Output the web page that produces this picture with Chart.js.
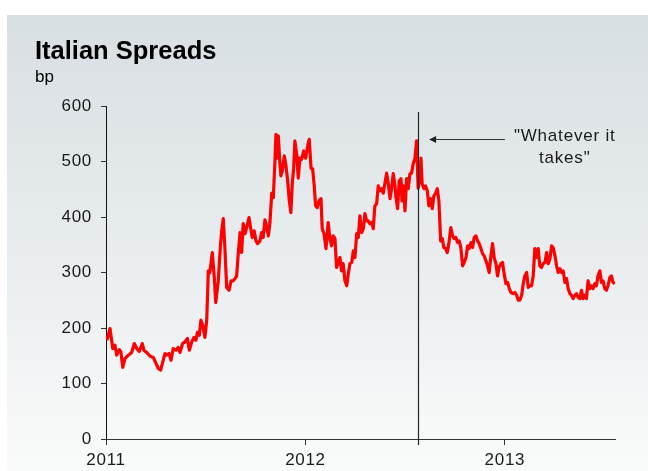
<!DOCTYPE html>
<html>
<head>
<meta charset="utf-8">
<script src="https://cdn.jsdelivr.net/npm/chart.js@4.4.1/dist/chart.umd.min.js"></script>
<style>
  html, body { margin: 0; padding: 0; background: #ffffff; }
  canvas { display: block; }
</style>
</head>
<body>
<canvas id="spreads" width="648" height="471"></canvas>
<script>
// Italian 10y spread over Bunds, basis points, sampled roughly twice a week (time in decimal years)
const weeks = [
  2011.004,2011.020,2011.034,2011.045,2011.054,2011.067,2011.075,2011.084,2011.095,2011.112,
  2011.129,2011.142,2011.154,2011.167,2011.182,2011.190,2011.204,2011.221,2011.237,2011.251,
  2011.262,2011.274,2011.287,2011.296,2011.304,2011.316,2011.326,2011.337,2011.351,2011.362,
  2011.371,2011.384,2011.396,2011.408,2011.418,2011.430,2011.441,2011.451,2011.458,2011.468,
  2011.476,2011.485,2011.496,2011.505,2011.513,2011.521,2011.533,2011.543,2011.550,2011.563,
  2011.573,2011.580,2011.588,2011.596,2011.605,2011.617,2011.627,2011.638,2011.647,2011.655,
  2011.663,2011.672,2011.680,2011.688,2011.697,2011.705,2011.717,2011.725,2011.733,2011.743,
  2011.752,2011.760,2011.772,2011.780,2011.788,2011.797,2011.805,2011.814,2011.822,2011.831,
  2011.839,2011.847,2011.852,2011.859,2011.864,2011.872,2011.877,2011.884,2011.894,2011.901,
  2011.911,2011.919,2011.927,2011.934,2011.941,2011.947,2011.956,2011.964,2011.972,2011.981,
  2011.991,2012.001,2012.011,2012.019,2012.028,2012.036,2012.044,2012.051,2012.059,2012.068,
  2012.078,2012.084,2012.093,2012.103,2012.114,2012.123,2012.131,2012.139,2012.148,2012.156,
  2012.164,2012.173,2012.181,2012.189,2012.198,2012.207,2012.215,2012.223,2012.232,2012.240,
  2012.248,2012.257,2012.265,2012.273,2012.282,2012.290,2012.298,2012.307,2012.315,2012.323,
  2012.332,2012.340,2012.348,2012.357,2012.365,2012.373,2012.382,2012.390,2012.398,2012.407,
  2012.415,2012.424,2012.432,2012.440,2012.449,2012.454,2012.462,2012.470,2012.479,2012.484,
  2012.492,2012.499,2012.507,2012.515,2012.524,2012.532,2012.540,2012.549,2012.557,2012.565,
  2012.574,2012.579,2012.585,2012.594,2012.602,2012.611,2012.619,2012.628,2012.636,2012.644,
  2012.653,2012.661,2012.669,2012.678,2012.686,2012.694,2012.703,2012.711,2012.719,2012.729,
  2012.738,2012.746,2012.754,2012.763,2012.771,2012.779,2012.788,2012.796,2012.805,2012.813,
  2012.821,2012.830,2012.838,2012.846,2012.855,2012.863,2012.871,2012.880,2012.888,2012.896,
  2012.905,2012.913,2012.921,2012.930,2012.938,2012.946,2012.955,2012.963,2012.971,2012.980,
  2012.988,2012.996,2013.005,2013.014,2013.022,2013.030,2013.042,2013.050,2013.059,2013.067,
  2013.075,2013.084,2013.092,2013.100,2013.109,2013.117,2013.125,2013.134,2013.142,2013.150,
  2013.159,2013.167,2013.175,2013.184,2013.192,2013.201,2013.209,2013.217,2013.226,2013.234,
  2013.242,2013.251,2013.259,2013.267,2013.276,2013.284,2013.292,2013.301,2013.309,2013.317,
  2013.326,2013.334,2013.342,2013.351,2013.359,2013.367,2013.376,2013.384,2013.392,2013.401,
  2013.409,2013.417,2013.426,2013.434,2013.442,2013.451,2013.459,2013.467,2013.476,2013.484,
  2013.492,2013.501,2013.509,2013.517,2013.526,2013.534,2013.542,2013.551
];

const spreadBp = [
  178,199,163,169,151,161,156,129,145,151,
  156,172,163,158,172,160,156,149,147,136,
  127,124,142,154,151,154,142,163,160,165,
  156,172,175,181,160,175,183,178,192,187,
  214,205,183,214,303,300,336,291,246,285,
  345,375,397,345,273,268,285,285,289,294,
  334,372,336,388,370,381,399,381,363,375,
  357,352,357,372,363,395,384,366,390,443,
  435,501,549,506,546,496,474,483,510,496,
  465,429,408,460,488,537,513,470,506,504,
  519,506,528,540,488,487,456,420,417,429,
  433,379,370,343,390,361,348,366,361,309,
  316,327,303,316,285,276,298,316,318,339,
  327,370,363,402,372,379,406,393,393,388,
  390,379,420,424,456,447,451,443,460,479,
  461,433,452,478,456,435,415,465,469,429,
  456,411,469,451,478,479,496,506,537,452,
  469,506,460,451,456,447,420,433,415,438,
  443,451,429,357,361,345,343,336,352,381,
  366,361,363,354,357,345,312,318,327,348,
  343,354,345,363,366,357,352,343,334,330,
  321,312,300,330,352,327,316,294,309,316,
  318,298,280,282,271,264,262,264,259,250,
  250,259,280,294,300,273,276,276,294,343,
  327,343,312,309,316,318,336,316,325,348,
  345,330,312,300,307,300,303,282,289,271,
  262,259,253,259,262,255,253,268,253,259,
  253,285,271,276,271,280,276,294,303,282,
  285,271,268,276,291,294,282,280
];

const yearTicks = [2011, 2012, 2013];
const yearLabels = ['2011', '2012', '2013'];
const bpTicks = [0, 100, 200, 300, 400, 500, 600];

// Draghi's London speech, 26 July 2012
const eventDate = 2012.566;
const eventTop = 589;
const calloutLines = ['"Whatever it', 'takes"'];
const calloutArrow = { from: 2013.0, to: 2012.62, level: 540 };
const calloutText = { at: 2013.30, levels: [546, 506] };

const FONT = "'Liberation Sans', Arial, Helvetica, sans-serif";
const INK = '#1a1a1a';

// soft grey panel behind the chart
const panel = {
  id: 'panel',
  beforeDraw(chart) {
    const ctx = chart.ctx;
    ctx.save();
    ctx.fillStyle = '#ffffff';
    ctx.fillRect(0, 0, chart.width, chart.height);
    const g = ctx.createLinearGradient(0, 15, 0, chart.height);
    g.addColorStop(0, '#d8dfe2');
    g.addColorStop(0.5, '#e8ecee');
    g.addColorStop(1, '#fafbfb');
    ctx.fillStyle = g;
    ctx.fillRect(7, 15, chart.width - 7, chart.height - 15);
    ctx.restore();
    ctx.letterSpacing = '0px';
  },
  afterDatasetsDraw(chart) {
    // axis labels are drawn after this point with slightly open tracking
    chart.ctx.letterSpacing = '0.7px';
  }
};

// event marker, arrow and callout text
const callout = {
  id: 'callout',
  afterDatasetsDraw(chart) {
    const { ctx, scales: { x, y } } = chart;
    ctx.save();
    ctx.letterSpacing = '0px';
    const ex = Math.round(x.getPixelForValue(eventDate)) + 0.5;
    ctx.strokeStyle = '#262626';
    ctx.lineWidth = 1.2;
    ctx.beginPath();
    ctx.moveTo(ex, y.getPixelForValue(eventTop));
    ctx.lineTo(ex, chart.chartArea.bottom + 6);
    ctx.stroke();

    const ay = Math.round(y.getPixelForValue(calloutArrow.level)) + 0.5;
    const x0 = x.getPixelForValue(calloutArrow.from);
    const x1 = x.getPixelForValue(calloutArrow.to);
    ctx.strokeStyle = '#333333';
    ctx.lineWidth = 1;
    ctx.beginPath();
    ctx.moveTo(x0, ay);
    ctx.lineTo(x1 + 5, ay);
    ctx.stroke();
    ctx.fillStyle = '#222222';
    ctx.beginPath();
    ctx.moveTo(x1, ay);
    ctx.lineTo(x1 + 7, ay - 3.5);
    ctx.lineTo(x1 + 7, ay + 3.5);
    ctx.closePath();
    ctx.fill();
    ctx.restore();
  },
  afterDraw(chart) {
    const { ctx, scales: { x, y } } = chart;
    ctx.save();
    ctx.letterSpacing = '0.8px';
    ctx.font = '17px ' + FONT;
    ctx.fillStyle = INK;
    ctx.textAlign = 'center';
    ctx.textBaseline = 'middle';
    const cx = x.getPixelForValue(calloutText.at);
    calloutLines.forEach((t, i) => {
      ctx.fillText(t, cx, y.getPixelForValue(calloutText.levels[i]));
    });
    ctx.restore();
  }
};

new Chart(document.getElementById('spreads'), {
  type: 'line',
  data: {
    datasets: [{
      label: 'Italian spread',
      data: weeks.map((t, i) => ({ x: t, y: spreadBp[i] })),
      borderColor: '#ff0000',
      borderWidth: 3.2,
      borderJoinStyle: 'round',
      pointRadius: 0,
      tension: 0,
      fill: false
    }]
  },
  options: {
    responsive: false,
    animation: false,
    devicePixelRatio: 1,
    layout: { padding: { left: 35, right: 33, top: 0, bottom: 0 } },
    plugins: {
      legend: { display: false },
      tooltip: { enabled: false },
      title: {
        display: true,
        text: 'Italian Spreads',
        align: 'start',
        color: '#000000',
        font: { family: FONT, size: 25.5, weight: 'bold', lineHeight: 1.2 },
        padding: { top: 37, bottom: 0 }
      },
      subtitle: {
        display: true,
        text: 'bp',
        align: 'start',
        color: '#000000',
        font: { family: FONT, size: 17, weight: 'normal', lineHeight: 1.2 },
        padding: { top: 0, bottom: 18 }
      }
    },
    scales: {
      x: {
        type: 'linear',
        min: yearTicks[0],
        max: 2013.552,
        afterBuildTicks(axis) { axis.ticks = yearTicks.map(v => ({ value: v })); },
        afterFit(axis) { axis.height = 32; },
        ticks: {
          z: 1,
          color: INK,
          padding: 5,
          maxRotation: 0,
          autoSkip: false,
          font: { family: FONT, size: 17 },
          callback: (v, i) => yearLabels[i]
        },
        grid: { display: true, drawOnChartArea: false, drawTicks: true, tickLength: 6, color: '#333333', lineWidth: 1 },
        border: { display: true, color: '#333333', width: 1 }
      },
      y: {
        type: 'linear',
        min: bpTicks[0],
        max: bpTicks[bpTicks.length - 1],
        afterBuildTicks(axis) { axis.ticks = bpTicks.map(v => ({ value: v })); },
        afterFit(axis) { axis.width = 71; },
        ticks: {
          z: 1,
          color: INK,
          padding: 9,
          font: { family: FONT, size: 17 },
          callback: (v) => String(v)
        },
        grid: { display: true, drawOnChartArea: false, drawTicks: true, tickLength: 5, color: '#333333', lineWidth: 1 },
        border: { display: true, color: '#111111', width: 1 }
      }
    }
  },
  plugins: [panel, callout]
});
</script>
</body>
</html>
